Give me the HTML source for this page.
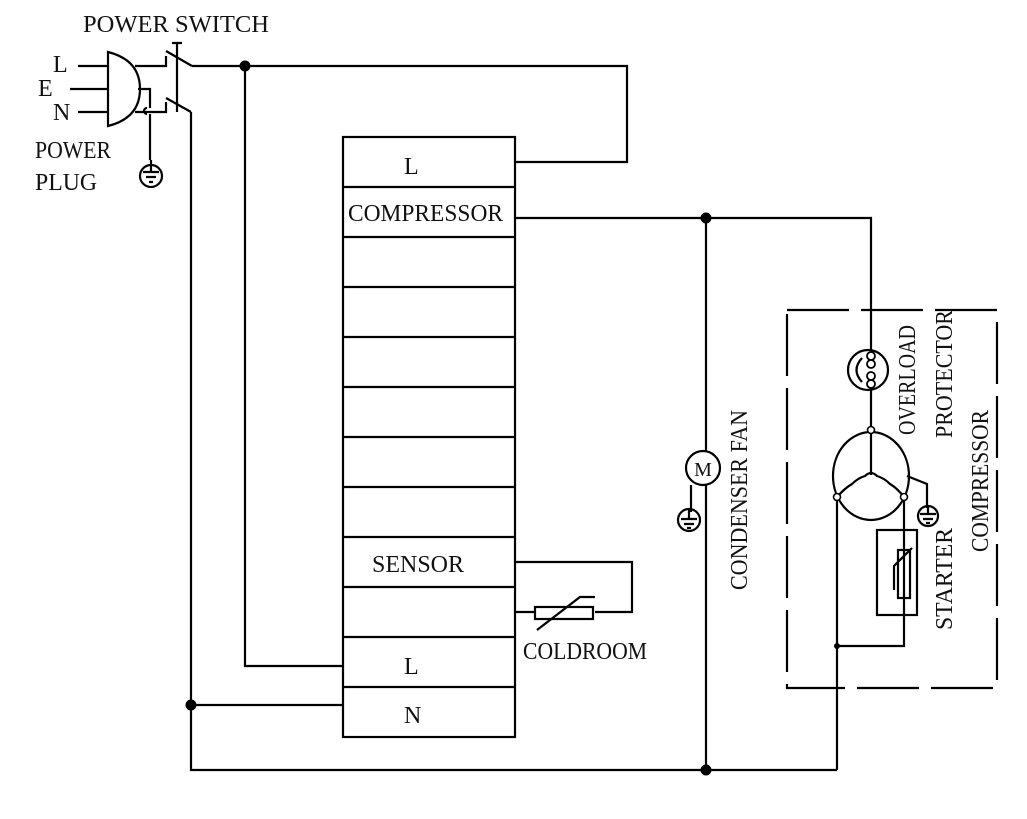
<!DOCTYPE html>
<html><head><meta charset="utf-8"><style>
html,body{margin:0;padding:0;background:#fff}
svg{display:block}
text{font-family:"Liberation Serif",serif;fill:#111}
</style></head><body>
<svg width="1027" height="819" viewBox="0 0 1027 819" xmlns="http://www.w3.org/2000/svg">
<g stroke="#000" stroke-width="2.2" fill="none">
<rect x="343" y="137" width="172" height="600"/>
<path d="M343 187H515M343 237H515M343 287H515M343 337H515M343 387H515M343 437H515M343 487H515M343 537H515M343 587H515M343 637H515M343 687H515"/>
<path d="M192 66H627V162H515"/>
<path d="M245 66V666H343"/>
<path d="M191 112V770H837"/>
<path d="M191 705H343"/>
<path d="M515 218H871V350"/>
<path d="M706 218V770"/>
<path d="M78 66H108M70 89H108M78 112H108"/>
<path d="M108 52V126Q140 118 140 89Q140 60 108 52Z"/>
<path d="M135 66H166V56M166 51L192 66"/>
<path d="M138 89H150V108M150 114V160"/>
<path d="M147 108a3 3 0 0 0 0 6"/>
<path d="M135 112H166V102M166 98L191 112"/>
<path d="M177 43V112M172 43H182"/>
<circle cx="151" cy="176" r="11"/>
<path d="M151 160V172M143 172H159M146 177H156M149 182H153"/>
<path d="M515 562H632V612H595M515 612H535"/>
<rect x="535" y="607" width="58" height="12"/>
<path d="M537 630L580 597H595"/>
<circle cx="703" cy="468" r="17" fill="#fff"/>
<path d="M691 485V512"/>
<circle cx="689" cy="520" r="11"/>
<path d="M689 510V519M681 519H697M684 524H694M687 528H691"/>
<rect x="787" y="310" width="210" height="378" stroke-dasharray="62 12"/>
<circle cx="868" cy="370" r="20"/>
<path d="M862 358Q851 370 862 382"/>
<path d="M871 390V475"/>
<ellipse cx="871" cy="476" rx="38" ry="44"/>
<path d="M837 497Q845 488 852 484Q858 478 865 476Q871 470 877 476Q884 478 890 484Q897 488 904 497"/>
<path d="M837 497V770"/>
<path d="M904 497V646H837"/>
<rect x="877" y="530" width="40" height="85"/>
<rect x="898" y="550" width="12" height="48"/>
<path d="M894 590V566L912 548"/>
<path d="M907 476L927 484V508"/>
<circle cx="928" cy="516" r="10"/>
<path d="M928 506V514M920 514H936M923 519H933M926 523H930"/>
</g>
<g fill="#fff" stroke="#000" stroke-width="1.8">
<circle cx="871" cy="356" r="4"/><circle cx="871" cy="364" r="4"/>
<circle cx="871" cy="376" r="4"/><circle cx="871" cy="384" r="4"/>
</g>
<g fill="#fff" stroke="#000" stroke-width="1.6">
<circle cx="871" cy="430" r="3.5"/><circle cx="837" cy="497" r="3.5"/><circle cx="904" cy="497" r="3.5"/>
</g>
<g fill="#000">
<circle cx="245" cy="66" r="5.5"/><circle cx="706" cy="218" r="5.5"/><circle cx="706" cy="770" r="5.5"/><circle cx="191" cy="705" r="5.5"/><circle cx="837" cy="646" r="3"/>
</g>
<g font-size="24">
<text x="83" y="32" textLength="186" lengthAdjust="spacingAndGlyphs">POWER SWITCH</text>
<text x="53" y="72">L</text>
<text x="38" y="96">E</text>
<text x="53" y="120">N</text>
<text x="35" y="158" textLength="76" lengthAdjust="spacingAndGlyphs">POWER</text>
<text x="35" y="190" textLength="62" lengthAdjust="spacingAndGlyphs">PLUG</text>
<text x="404" y="174">L</text>
<text x="348" y="221" textLength="155" lengthAdjust="spacingAndGlyphs">COMPRESSOR</text>
<text x="372" y="572" textLength="92" lengthAdjust="spacingAndGlyphs">SENSOR</text>
<text x="404" y="674">L</text>
<text x="404" y="723">N</text>
<text x="523" y="659" textLength="124" lengthAdjust="spacingAndGlyphs">COLDROOM</text>
<text x="703" y="476" font-size="20" text-anchor="middle">M</text>
<text transform="translate(747,590) rotate(-90)" textLength="180" lengthAdjust="spacingAndGlyphs">CONDENSER FAN</text>
<text transform="translate(915,435) rotate(-90)" textLength="110" lengthAdjust="spacingAndGlyphs">OVERLOAD</text>
<text transform="translate(952,438) rotate(-90)" textLength="128" lengthAdjust="spacingAndGlyphs">PROTECTOR</text>
<text transform="translate(988,552) rotate(-90)" textLength="142" lengthAdjust="spacingAndGlyphs">COMPRESSOR</text>
<text transform="translate(952,630) rotate(-90)" textLength="102" lengthAdjust="spacingAndGlyphs">STARTER</text>
</g>
</svg>
</body></html>
